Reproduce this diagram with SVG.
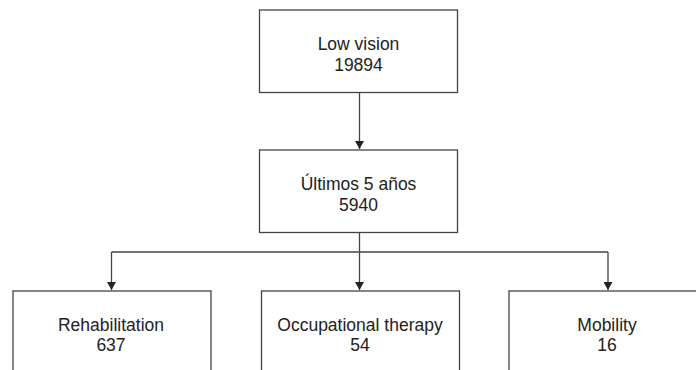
<svg xmlns="http://www.w3.org/2000/svg" width="696" height="370" viewBox="0 0 696 370">
<style>
.box{fill:#fff;stroke:#444;stroke-width:1.3}
.t{font-family:"Liberation Sans",Arial,sans-serif;font-size:17.5px;fill:#222;text-anchor:middle}
.c{fill:none;stroke:#444;stroke-width:1.3}
</style>
<defs>
<marker id="ah" markerWidth="9" markerHeight="9" refX="8" refY="4.5" orient="auto" markerUnits="userSpaceOnUse">
<path d="M0,0 L8,4.5 L0,9 z" fill="#222"/>
</marker>
</defs>
<rect width="696" height="370" fill="#fff"/>
<g id="connectors">
<path class="c" d="M359.5,92.5 V149" marker-end="url(#ah)"/>
<path class="c" d="M359.5,232.5 V290" marker-end="url(#ah)"/>
<path class="c" d="M111.5,252 H608" />
<path class="c" d="M111.5,252 V290" marker-end="url(#ah)"/>
<path class="c" d="M608,252 V290" marker-end="url(#ah)"/>
</g>
<g id="n1">
<rect class="box" x="259.5" y="10" width="198" height="82.5"/>
<text class="t" x="358.5" y="50">Low vision</text>
<text class="t" x="358.5" y="71">19894</text>
</g>
<g id="n2">
<rect class="box" x="259.5" y="150" width="198" height="82.5"/>
<text class="t" x="358.5" y="190">Últimos 5 años</text>
<text class="t" x="358.5" y="211">5940</text>
</g>
<g id="n3">
<rect class="box" x="13" y="291" width="198" height="90"/>
<text class="t" x="111" y="331">Rehabilitation</text>
<text class="t" x="111" y="351">637</text>
</g>
<g id="n4">
<rect class="box" x="261.5" y="291" width="198" height="90"/>
<text class="t" x="360" y="331">Occupational therapy</text>
<text class="t" x="360" y="351">54</text>
</g>
<g id="n5">
<rect class="box" x="509" y="291" width="198" height="90"/>
<text class="t" x="607" y="331">Mobility</text>
<text class="t" x="607" y="351">16</text>
</g>
</svg>
